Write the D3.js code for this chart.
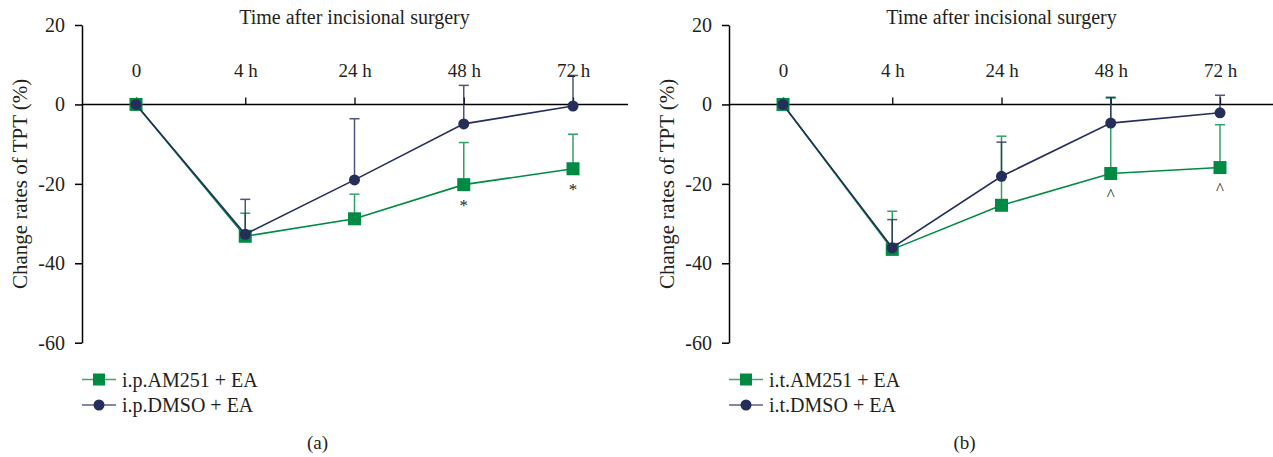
<!DOCTYPE html>
<html>
<head>
<meta charset="utf-8">
<script src="https://cdn.jsdelivr.net/npm/d3@7"></script>
<style>
  body { margin: 0; background: #fff; }
</style>
</head>
<body>
<div id="chart"></div>
<script>
// categories and ticks
var timeLabels = ["0", "4 h", "24 h", "48 h", "72 h"];
var yTicks = [20, 0, -20, -40, -60];

// panel (a), i.p. injection
var ipAM251 = [0, -33.2, -28.8, -20.2, -16.2];
var ipAM251Err = [0, 5.8, 6.2, 10.6, 8.7];
var ipDMSO = [0, -32.7, -19.0, -4.9, -0.4];
var ipDMSOErr = [0, 8.8, 15.4, 9.7, 7.7];
var ipMarks = ["", "", "", "*", "*"];

// panel (b), i.t. injection
var itAM251 = [0, -36.5, -25.4, -17.4, -15.9];
var itAM251Err = [0, 9.6, 17.4, 19.0, 10.8];
var itDMSO = [0, -36.1, -18.1, -4.7, -2.1];
var itDMSOErr = [0, 7.1, 8.6, 6.5, 4.4];
var itMarks = ["", "", "", "^", "^"];

var green = "#008a43", navy = "#252d5b";
var serif = "'Liberation Serif', 'DejaVu Serif', serif";

var svg = d3.select("#chart").append("svg")
  .attr("width", 1273)
  .attr("height", 457)
  .attr("font-family", serif);

var drawPanel = function (opt) {
  var x = d3.scalePoint().domain(timeLabels).range([opt.x0 + 54, opt.x0 + 491]);
  var y = d3.scaleLinear().domain([-60, 20]).range([342.7, 25]);
  var g = svg.append("g");

  // y axis
  var yAxis = g.append("g")
    .attr("transform", "translate(" + opt.x0 + ",0)")
    .call(d3.axisLeft(y).tickValues(yTicks).tickSize(7).tickSizeOuter(0).tickPadding(10)
      .tickFormat(function (d) { return String(d); }));
  yAxis.selectAll("path, line").attr("stroke", "#000").attr("stroke-width", 1.5);
  yAxis.selectAll("text").style("font-size", "20px");

  // x axis at zero, ticks pointing up, labels above
  g.append("line")
    .attr("x1", opt.x0).attr("x2", opt.xEnd)
    .attr("y1", y(0)).attr("y2", y(0))
    .attr("stroke", "#000").attr("stroke-width", 1.5);
  var xAxis = g.append("g")
    .attr("transform", "translate(0," + y(0) + ")")
    .call(d3.axisTop(x).tickSize(7).tickPadding(20));
  xAxis.select(".domain").remove();
  xAxis.selectAll("line").attr("stroke", "#000").attr("stroke-width", 1.3);
  xAxis.selectAll("text").style("font-size", "19px");

  // titles
  g.append("text")
    .attr("x", x("24 h")).attr("y", 24)
    .attr("text-anchor", "middle")
    .style("font-size", "20px")
    .text("Time after incisional surgery");
  g.append("text")
    .attr("transform", "translate(" + (opt.x0 - 62) + "," + y(-20) + ") rotate(-90)")
    .attr("text-anchor", "middle")
    .attr("dy", "0.35em")
    .style("font-size", "21px")
    .text("Change rates of TPT (%)");
  g.append("text")
    .attr("x", x("24 h") - 37).attr("y", 449)
    .attr("text-anchor", "middle")
    .style("font-size", "19px")
    .text(opt.tag);

  var series = [
    { vals: opt.am, err: opt.amErr, color: green, shape: "square", name: opt.amName },
    { vals: opt.dm, err: opt.dmErr, color: navy, shape: "circle", name: opt.dmName }
  ];

  var line = d3.line()
    .x(function (d, i) { return x(timeLabels[i]); })
    .y(function (d) { return y(d); });

  // error bars (upper only)
  series.forEach(function (s) {
    var eb = g.append("g").attr("stroke", s.color).attr("stroke-width", 1.5).attr("opacity", 0.8);
    s.vals.forEach(function (v, i) {
      if (!s.err[i]) return;
      var cx = x(timeLabels[i]);
      eb.append("line").attr("x1", cx).attr("x2", cx)
        .attr("y1", y(v)).attr("y2", y(v + s.err[i]));
      eb.append("line").attr("x1", cx - 5).attr("x2", cx + 5)
        .attr("y1", y(v + s.err[i])).attr("y2", y(v + s.err[i]));
    });
  });

  series.forEach(function (s) {
    g.append("path")
      .datum(s.vals)
      .attr("d", line)
      .attr("fill", "none")
      .attr("stroke", s.color)
      .attr("stroke-width", 1.6);
    s.vals.forEach(function (v, i) {
      var cx = x(timeLabels[i]), cy = y(v);
      if (s.shape == "square") {
        g.append("rect").attr("x", cx - 6.5).attr("y", cy - 6.5)
          .attr("width", 13).attr("height", 13).attr("fill", s.color);
      } else {
        g.append("circle").attr("cx", cx).attr("cy", cy).attr("r", 5.5).attr("fill", s.color);
      }
    });
  });

  // significance marks under the AM251 points
  opt.marks.forEach(function (m, i) {
    if (!m) return;
    g.append("text")
      .attr("x", x(timeLabels[i]))
      .attr("y", y(opt.am[i]) + 26)
      .attr("text-anchor", "middle")
      .style("font-size", "17px")
      .text(m);
  });

  // legend
  series.forEach(function (s, k) {
    var ly = 379.5 + k * 25.5;
    var lg = g.append("g");
    lg.append("line").attr("x1", opt.x0).attr("x2", opt.x0 + 34)
      .attr("y1", ly).attr("y2", ly)
      .attr("stroke", s.color).attr("stroke-width", 1.6).attr("opacity", 0.75);
    if (s.shape == "square") {
      lg.append("rect").attr("x", opt.x0 + 11).attr("y", ly - 6)
        .attr("width", 12).attr("height", 12).attr("fill", s.color);
    } else {
      lg.append("circle").attr("cx", opt.x0 + 17).attr("cy", ly).attr("r", 5.5).attr("fill", s.color);
    }
    lg.append("text").attr("x", opt.x0 + 40).attr("y", ly)
      .attr("dy", "0.35em")
      .style("font-size", "20px")
      .text(s.name);
  });
};

drawPanel({ x0: 82, xEnd: 628, tag: "(a)",
  am: ipAM251, amErr: ipAM251Err, dm: ipDMSO, dmErr: ipDMSOErr, marks: ipMarks,
  amName: "i.p.AM251 + EA", dmName: "i.p.DMSO + EA" });

drawPanel({ x0: 729, xEnd: 1273, tag: "(b)",
  am: itAM251, amErr: itAM251Err, dm: itDMSO, dmErr: itDMSOErr, marks: itMarks,
  amName: "i.t.AM251 + EA", dmName: "i.t.DMSO + EA" });

// one serif face for every label, axis texts included
svg.selectAll("text").style("font-family", serif).style("fill", "#231f20");
</script>
</body>
</html>
